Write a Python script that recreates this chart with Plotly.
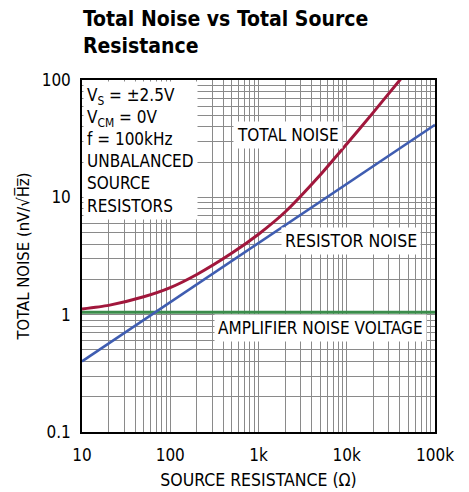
import plotly.graph_objects as go

# Data
resistance_total = [10, 20, 50, 100, 200, 500, 1000, 2000, 5000, 10000, 20000, 40000, 50000]
total_noise = [1.12, 1.2, 1.42, 1.7, 2.2, 3.35, 4.85, 7.5, 15.5, 28.5, 53, 100, 122]

resistance_res = [10, 100000]
resistor_noise = [0.40, 41.5]

resistance_amp = [10, 100000]
amp_noise = [1.05, 1.05]

x_tickvals = [10, 100, 1000, 10000, 100000]
x_ticktext = ["10", "100", "1k", "10k", "100k"]
y_tickvals = [0.1, 1, 10, 100]
y_ticktext = ["0.1", "1", "10", "100"]

FONT = "DejaVu Sans Condensed, Liberation Sans Narrow, sans-serif"

fig = go.Figure()
fig.add_trace(go.Scatter(x=resistance_amp, y=amp_noise, mode="lines",
                         line=dict(color="#3B8C4B", width=3), showlegend=False))
fig.add_trace(go.Scatter(x=resistance_res, y=resistor_noise, mode="lines",
                         line=dict(color="#3F5DB1", width=2.5), showlegend=False))
fig.add_trace(go.Scatter(x=resistance_total, y=total_noise, mode="lines",
                         line=dict(color="#A1173C", width=3, shape="spline", smoothing=0.6),
                         showlegend=False))

grid = "#8a8a8a"
fig.update_xaxes(type="log", range=[1, 5], tickvals=x_tickvals, ticktext=x_ticktext,
                 showgrid=True, gridcolor=grid, gridwidth=1,
                 minor=dict(dtick="D1", showgrid=True, gridcolor=grid, gridwidth=1, ticks=""),
                 showline=True, linecolor="black", linewidth=1.5, mirror=True,
                 ticks="", tickfont=dict(family=FONT, size=17, color="black"),
                 ticklabelstandoff=7, automargin=False,
                 title=dict(text="SOURCE RESISTANCE (Ω)", font=dict(family=FONT, size=17.5, color="black"),
                            standoff=10),
                 zeroline=False)
fig.update_yaxes(type="log", range=[-1, 2], tickvals=y_tickvals, ticktext=y_ticktext,
                 showgrid=True, gridcolor=grid, gridwidth=1,
                 minor=dict(dtick="D1", showgrid=True, gridcolor=grid, gridwidth=1, ticks=""),
                 showline=True, linecolor="black", linewidth=1.5, mirror=True,
                 ticks="", tickfont=dict(family=FONT, size=17, color="black"),
                 ticklabelstandoff=6, automargin=False,
                 title=dict(text="TOTAL NOISE (nV/√H\u0305z\u0305)", font=dict(family=FONT, size=16.5, color="black"),
                            standoff=8),
                 zeroline=False)

ann_font = dict(family=FONT, size=17, color="black")
fig.add_annotation(x=3.333, y=1.532, xref="x", yref="y", text="TOTAL NOISE", showarrow=False,
                   font=ann_font, bgcolor="white", borderpad=3)
fig.add_annotation(x=4.046, y=0.628, xref="x", yref="y", text="RESISTOR NOISE", showarrow=False,
                   font=dict(family=FONT, size=17.5, color="black"), bgcolor="white", borderpad=3)
fig.add_annotation(x=3.707, y=-0.113, xref="x", yref="y", text="AMPLIFIER NOISE VOLTAGE", showarrow=False,
                   font=ann_font, bgcolor="white", borderpad=3)
fig.add_annotation(x=0, y=1, xref="paper", yref="paper", xanchor="left", yanchor="top",
                   text="V<sub>S</sub> = ±2.5V<br>V<sub>CM</sub> = 0V<br>f = 100kHz<br>UNBALANCED<br>SOURCE<br>RESISTORS",
                   align="left", showarrow=False, font=ann_font, bgcolor="white", borderpad=3,
                   xshift=1, yshift=-1)
# Title
fig.add_annotation(x=0, y=1, xref="paper", yref="paper", xanchor="left", yanchor="top",
                   text="<b>Total Noise vs Total Source<br>Resistance</b>", align="left",
                   showarrow=False, font=dict(family=FONT, size=21, color="black"),
                   xshift=-1, yshift=75)

fig.update_layout(
    width=461, height=484,
    margin=dict(l=74, r=34, t=72, b=60),
    paper_bgcolor="white", plot_bgcolor="white",
)

fig.write_html("out.html")
